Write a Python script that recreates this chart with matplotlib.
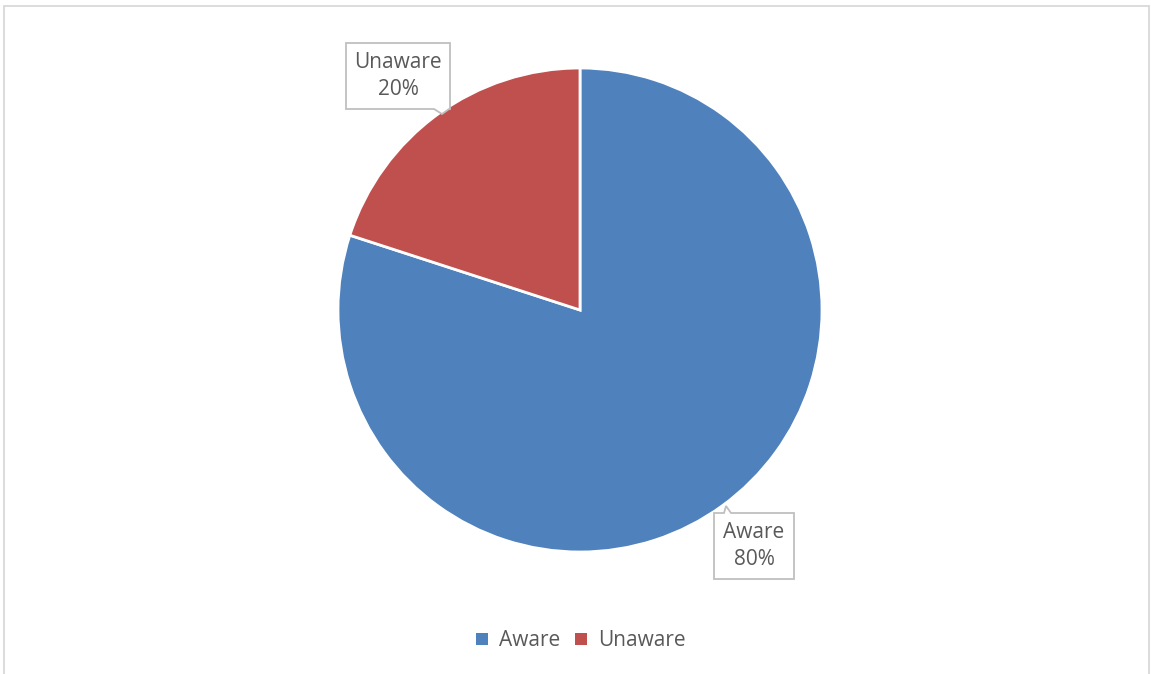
import numpy as np
import matplotlib
matplotlib.use("Agg")
import matplotlib.pyplot as plt
from matplotlib.patches import Rectangle, Polygon

plt.rcParams['font.family'] = ['Open Sans', 'DejaVu Sans']

labels = ['Aware', 'Unaware']
values = [80, 20]
colors = ['#4F81BD', '#C0504D']
text_color = '#595959'
box_color = '#BFBFBF'

W, H = 1151, 674
fig = plt.figure(figsize=(W / 100, H / 100), dpi=100)
ax = fig.add_axes([0, 0, 1, 1])

cx, cy, r = 580, H - 310, 242
wedges, _ = ax.pie(values, colors=colors, startangle=90, counterclock=False,
                   center=(cx, cy), radius=r, frame=True,
                   wedgeprops=dict(edgecolor='white', linewidth=2))
ax.set_xlim(0, W)
ax.set_ylim(0, H)
ax.set_aspect('equal')
ax.axis('off')

# chart frame (bottom edge is cut off in the reference)
ax.add_patch(Rectangle((4.5, -10), 1145, H - 5 + 10 - 0.5, fill=False,
                       ec='#D9D9D9', lw=1.3))

# callout boxes in pixel coords (y down), with a small tail toward the slice
ul, ut, ur, ub = 346, 43, 450, 109
unaware_poly = [(ul, ut), (ur, ut), (ur, ub), (449, ub), (442, ub + 5), (434, ub), (ul, ub)]
al, at, ar, ab = 714, 513, 794, 579
aware_poly = [(al, at), (724, at), (726, at - 7), (731, at), (ar, at), (ar, ab), (al, ab)]

boxes = [(aware_poly, (al + ar) / 2, (at + ab) / 2),
         (unaware_poly, (ul + ur) / 2, (ut + ub) / 2)]

for (poly, mx, my), name, v in zip(boxes, labels, values):
    xy = [(x, H - y) for x, y in poly]
    ax.add_patch(Polygon(xy, closed=True, fc='white', ec=box_color, lw=1.3, zorder=3))
    ax.text(mx, H - my, f"{name}\n{v}%", ha='center', va='center', fontsize=15,
            color=text_color, linespacing=1.35, zorder=4)

leg = ax.legend(wedges, labels, loc='center', bbox_to_anchor=(581 / W, 1 - 641 / H),
                ncol=2, frameon=False, fontsize=15, handlelength=0.55, handleheight=0.55,
                handletextpad=0.55, columnspacing=0.7)
for t in leg.get_texts():
    t.set_color(text_color)
for h in leg.legend_handles:
    h.set_edgecolor('none')

fig.savefig('out.png', dpi=100, facecolor='white')
